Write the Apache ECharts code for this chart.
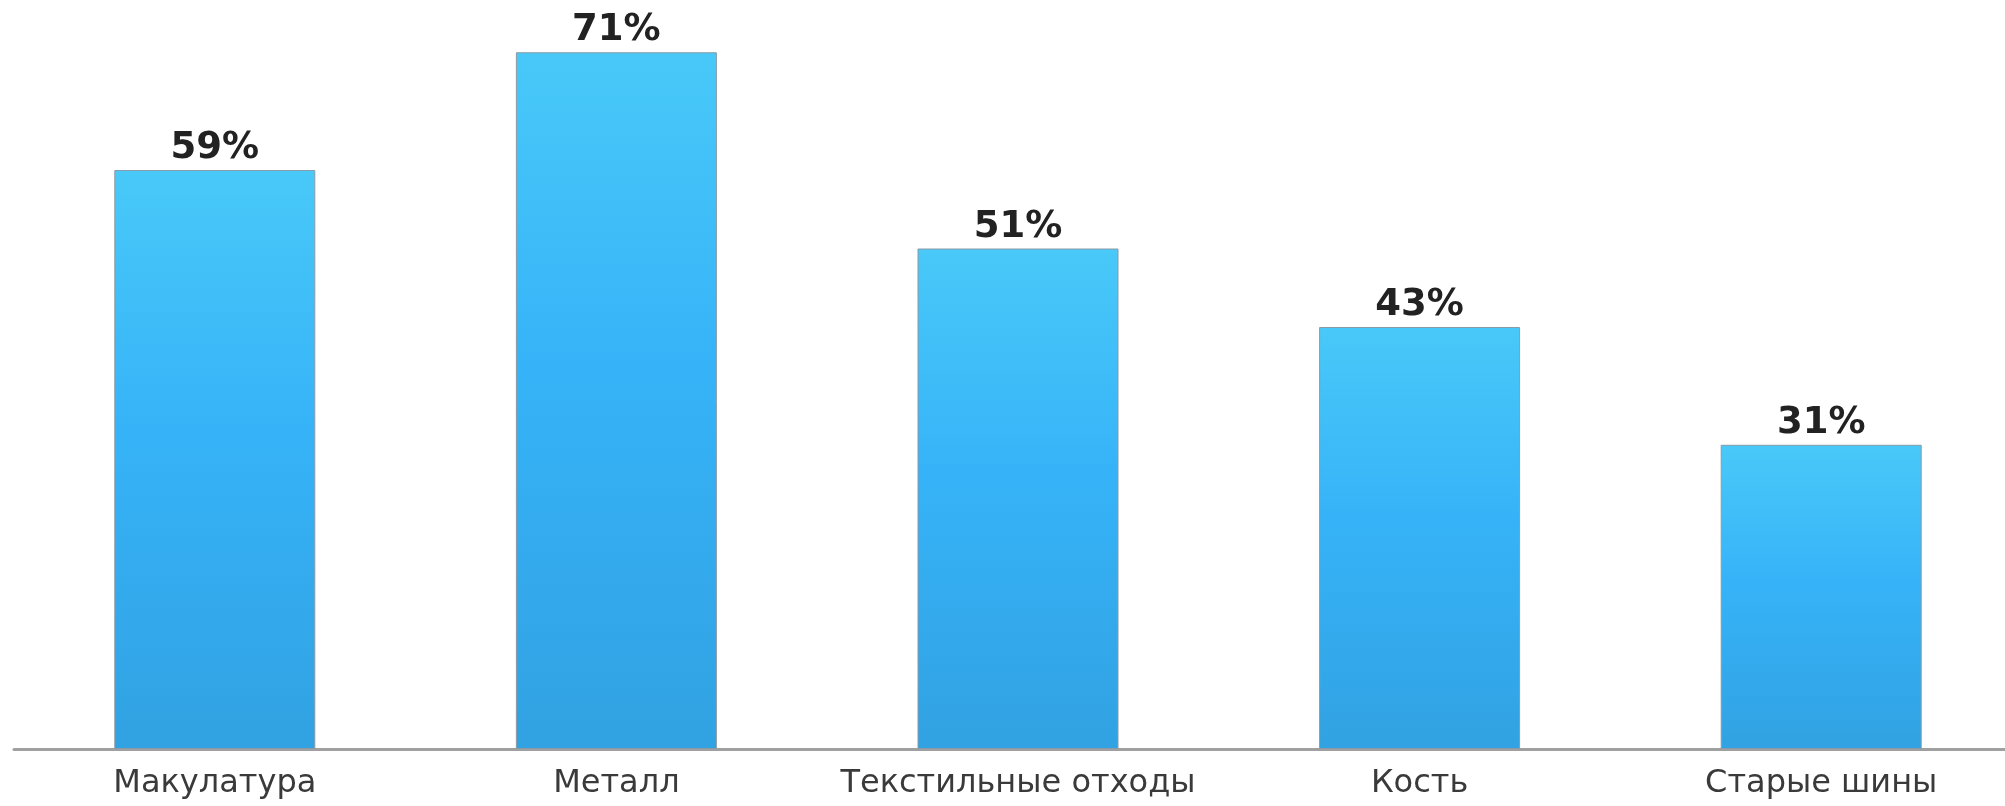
<!DOCTYPE html>
<html>
<head>
<meta charset="utf-8">
<script src="https://cdn.jsdelivr.net/npm/echarts@6/dist/echarts.min.js"></script>
<style>
html,body{margin:0;padding:0;background:#fff;overflow:hidden;}
#chart{width:2040px;height:806px;}
</style>
</head>
<body>
<div id="chart"></div>
<script>
const categories = ['Макулатура', 'Металл', 'Текстильные отходы', 'Кость', 'Старые шины'];
const values = [59, 71, 51, 43, 31];

const chart = echarts.init(document.getElementById('chart'), null, {renderer: 'canvas'});
chart.setOption({
  animation: false,
  backgroundColor: '#ffffff',
  grid: {left: 14, top: 13, width: 2008, height: 736},
  xAxis: {
    type: 'category',
    data: categories,
    axisLine: {lineStyle: {color: '#a0a0a0', width: 3}},
    axisTick: {show: false},
    axisLabel: {interval: 0, fontFamily: 'DejaVu Sans', fontSize: 32, color: '#3a3a3a', margin: 19}
  },
  yAxis: {
    type: 'value', min: 0, max: 75,
    show: false,
    splitLine: {show: false}
  },
  series: [{
    type: 'bar',
    data: values,
    barWidth: 201,
    itemStyle: {
      borderColor: '#8a9aa6',
      borderWidth: 1,
      color: new echarts.graphic.LinearGradient(0, 0, 0, 1, [
        {offset: 0, color: '#48c9f8'},
        {offset: 0.45, color: '#36b3f8'},
        {offset: 1, color: '#31a2e2'}
      ])
    },
    label: {
      show: true,
      position: 'top',
      distance: 3,
      formatter: '{c}%',
      fontFamily: 'DejaVu Sans',
      fontWeight: 'bold',
      fontSize: 37,
      color: '#222222'
    }
  }]
});
</script>
</body>
</html>
